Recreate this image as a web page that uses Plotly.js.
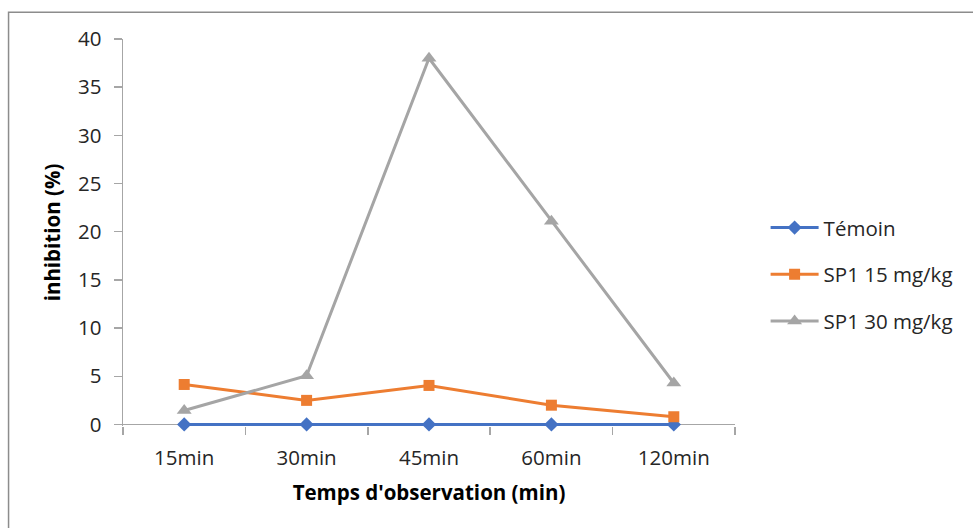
<!DOCTYPE html>
<html>
<head>
<meta charset="utf-8">
<script src="https://cdn.plot.ly/plotly-3.0.1.min.js"></script>
<style>
html,body{margin:0;padding:0;background:#fff;}
#chart{width:973px;height:528px;}
</style>
</head>
<body>
<div id="chart"></div>
<script>
var categories = ["15min", "30min", "45min", "60min", "120min"];
var temoin = [0, 0, 0, 0, 0];
var sp1_15 = [4.15, 2.5, 4.05, 2.0, 0.8];
var sp1_30 = [1.45, 5.05, 38.0, 21.1, 4.3];
var seriesNames = ["Témoin", "SP1 15 mg/kg", "SP1 30 mg/kg"];
var yTicks = [0, 5, 10, 15, 20, 25, 30, 35, 40];

var FONT = "Open Sans, Noto Sans, sans-serif";
var FS = 20.5;

var traces = [
  {x: categories, y: temoin, name: seriesNames[0], legendgroup: "a", mode: "lines+markers", cliponaxis: false,
   line: {color: "#4472C4", width: 3}, marker: {symbol: "diamond", size: 11, color: "#4472C4"}},
  {x: categories, y: sp1_15, name: seriesNames[1], legendgroup: "b", mode: "lines+markers", cliponaxis: false,
   line: {color: "#ED7D31", width: 3}, marker: {symbol: "square", size: 11, color: "#ED7D31"}},
  {x: categories, y: sp1_30, name: seriesNames[2], legendgroup: "c", mode: "lines+markers", cliponaxis: false,
   line: {color: "#A5A5A5", width: 3}, marker: {symbol: "triangle-up", size: 13, color: "#A5A5A5"}}
];

var layout = {
  width: 973, height: 528,
  margin: {l: 123, r: 238, t: 39, b: 102},
  paper_bgcolor: "#ffffff", plot_bgcolor: "#ffffff",
  font: {family: FONT, size: FS, color: "#262626"},
  showlegend: true,
  legend: {x: 1.05, y: 0.392, xanchor: "left", yanchor: "middle",
           font: {family: FONT, size: FS, color: "#262626"}, itemwidth: 48,
           traceorder: "grouped", tracegroupgap: 17, bgcolor: "rgba(0,0,0,0)"},
  xaxis: {
    type: "category", range: [-0.5, 4.5], showgrid: false, zeroline: false,
    showline: false,
    ticks: "outside", tickson: "boundaries", ticklen: 8, tickcolor: "#a6a6a6", tickwidth: 1.5,
    ticklabelstandoff: 17,
    tickfont: {family: FONT, size: FS, color: "#262626"},
    title: {text: "<b>Temps d'observation (min)</b>", font: {family: FONT, size: FS, color: "#000"}, standoff: 16}
  },
  yaxis: {
    range: [-0.16, 40], tickvals: yTicks, showgrid: false,
    zeroline: true, zerolinecolor: "#a6a6a6", zerolinewidth: 1.5,
    showline: true, linecolor: "#a6a6a6", linewidth: 1.5,
    ticks: "outside", ticklen: 8, tickcolor: "#a6a6a6", tickwidth: 1.5,
    ticklabelstandoff: 8,
    tickfont: {family: FONT, size: FS, color: "#262626"},
    title: {text: "<b>inhibition (%)</b>", font: {family: FONT, size: FS, color: "#000"}, standoff: 12}
  },
  shapes: [{type: "rect", xref: "paper", yref: "paper",
            x0: -0.187, x1: 1.5, y0: 1.069, y1: -0.4,
            line: {color: "#8c8c8c", width: 1.5}, fillcolor: "rgba(0,0,0,0)", layer: "below"}]
};

Plotly.newPlot("chart", traces, layout, {displayModeBar: false, staticPlot: true});
</script>
</body>
</html>
